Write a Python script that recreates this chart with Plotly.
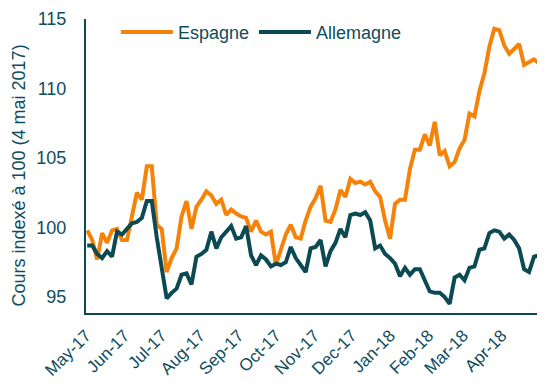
import pandas as pd
import plotly.graph_objects as go

# ---- data ----
dates = pd.date_range("2017-05-02", periods=92, freq="4D")

espagne = [
    99.8, 99.1, 97.7, 99.6, 98.9, 99.8, 99.9, 99.1, 99.1, 100.9,
    102.5, 102.0, 104.4, 104.4, 100.2, 99.9, 96.8, 97.8, 98.5, 100.8,
    101.9, 99.9, 101.5, 102.0, 102.6, 102.3, 101.7, 102.0, 100.9, 101.3,
    101.0, 100.8, 100.7, 99.7, 100.5, 99.7, 99.5, 99.7, 97.3, 98.4,
    99.5, 100.2, 99.3, 99.2, 100.5, 101.5, 102.1, 103.0, 100.5, 100.4,
    101.3, 102.7, 102.2, 103.5, 103.2, 103.3, 103.1, 103.3, 102.6, 102.2,
    100.5, 99.2, 101.7, 102.0, 102.0, 104.2, 105.6, 105.6, 106.7, 105.9,
    107.6, 105.2, 105.5, 104.4, 104.7, 105.7, 106.3, 108.2, 108.0, 109.8,
    111.1, 113.0, 114.3, 114.2, 113.1, 112.5, 112.9, 113.2, 111.7, 111.9,
    112.1, 111.8,
]

allemagne = [
    98.7, 98.7, 98.1, 97.8, 98.3, 97.9, 99.7, 99.5, 99.9, 100.3,
    100.4, 100.7, 101.9, 101.9, 99.3, 96.9, 94.9, 95.3, 95.6, 96.6,
    96.7, 95.9, 97.9, 98.1, 98.4, 99.7, 98.5, 99.3, 99.7, 100.1,
    99.2, 99.3, 100.1, 98.0, 97.3, 98.0, 97.7, 97.2, 97.4, 97.3,
    97.5, 98.6, 97.8, 97.3, 96.8, 98.5, 98.6, 99.1, 97.2, 98.3,
    98.9, 99.9, 99.3, 100.9, 101.0, 100.9, 101.1, 100.5, 98.5, 98.7,
    98.1, 97.8, 97.4, 96.5, 97.1, 96.6, 97.0, 97.0, 96.2, 95.4,
    95.3, 95.3, 95.0, 94.5, 96.4, 96.6, 96.2, 97.1, 97.2, 98.4,
    98.5, 99.6, 99.8, 99.7, 99.2, 99.5, 99.1, 98.5, 97.0, 96.8,
    97.9, 98.0,
]

month_ticks = ["2017-05-01", "2017-06-01", "2017-07-01", "2017-08-01",
               "2017-09-01", "2017-10-01", "2017-11-01", "2017-12-01",
               "2018-01-01", "2018-02-01", "2018-03-01", "2018-04-01"]
month_labels = ["May-17", "Jun-17", "Jul-17", "Aug-17", "Sep-17", "Oct-17",
                "Nov-17", "Dec-17", "Jan-18", "Feb-18", "Mar-18", "Apr-18"]
y_ticks = [95, 100, 105, 110, 115]
y_title = "Cours indexé à 100 (4 mai 2017)"

ORANGE = "#F5830A"
TEAL = "#0B4A53"
TEXT = "#0F4C5C"
FONT = "Liberation Sans, Arial, sans-serif"

fig = go.Figure()
fig.add_trace(go.Scatter(x=dates, y=espagne, mode="lines", name="Espagne",
                         line=dict(color=ORANGE, width=4)))
fig.add_trace(go.Scatter(x=dates, y=allemagne, mode="lines", name="Allemagne",
                         line=dict(color=TEAL, width=4)))

# the page adds an 8px body margin, so the figure is drawn 8px smaller
fig.update_layout(
    width=537, height=378,
    margin=dict(l=78, r=6, t=11, b=73, autoexpand=False),
    paper_bgcolor="white", plot_bgcolor="white",
    font=dict(family=FONT, size=18, color=TEXT),
    showlegend=True,
    legend=dict(orientation="h", x=0.066, y=1.018, xanchor="left", yanchor="top",
                bgcolor="rgba(0,0,0,0)", font=dict(size=18, color=TEXT),
                itemwidth=52, tracegroupgap=0),
    xaxis=dict(type="date", range=["2017-05-01", "2018-05-01"],
               tickvals=month_ticks, ticktext=month_labels, tickangle=-45,
               showline=True, linecolor=TEAL, linewidth=2, mirror=False,
               showgrid=False, zeroline=False,
               ticks="outside", ticklen=4, tickcolor="rgba(0,0,0,0)",
               tickfont=dict(size=17, color=TEXT), automargin=False),
    yaxis=dict(range=[93.85, 115], tickvals=y_ticks,
               showline=True, linecolor=TEAL, linewidth=2,
               showgrid=False, zeroline=False,
               ticks="outside", ticklen=14, tickcolor="rgba(0,0,0,0)",
               tickfont=dict(size=18, color=TEXT), automargin=False),
    annotations=[dict(text=y_title, textangle=-90, xref="paper", yref="paper",
                      x=-0.147, y=0.469, xanchor="center", yanchor="middle",
                      showarrow=False, font=dict(size=18, color=TEXT))],
)

fig.write_html("out.html")
